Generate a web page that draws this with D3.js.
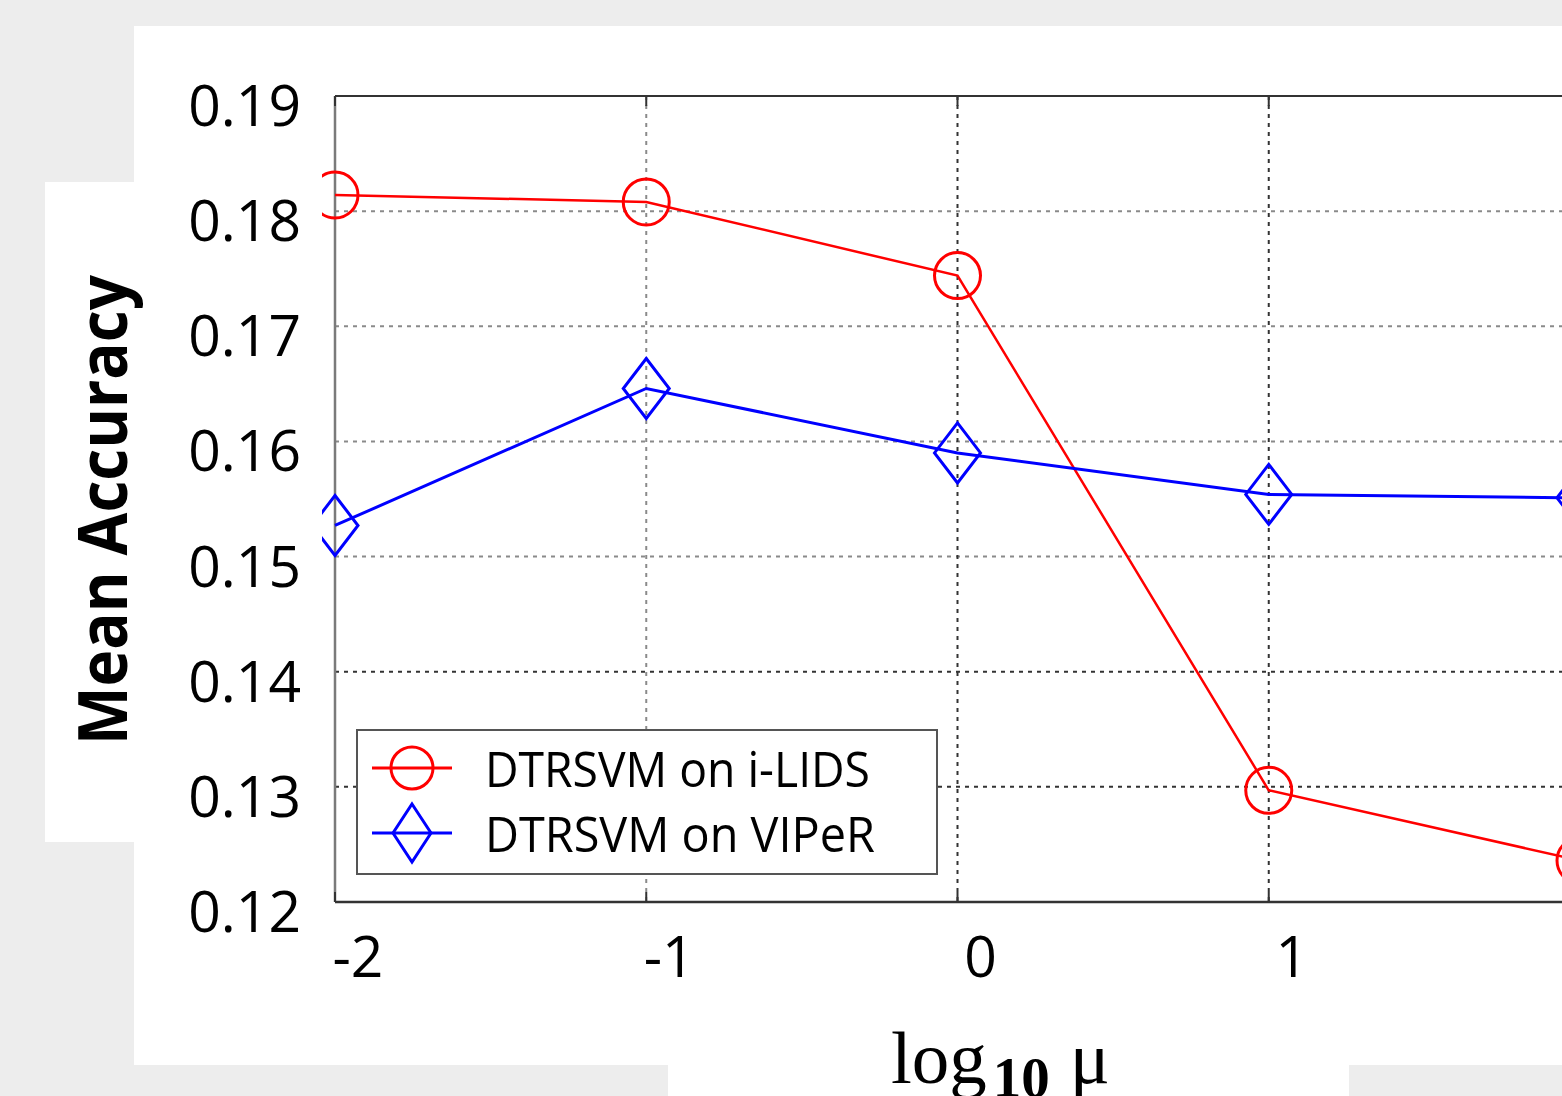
<!DOCTYPE html>
<html>
<head>
<meta charset="utf-8">
<script src="https://cdn.jsdelivr.net/npm/d3@7"></script>
<style>
  html, body { margin: 0; padding: 0; background: #ededed; }
  svg { display: block; }
</style>
</head>
<body>
<div id="container"></div>
<script>
// values
const muLog = [-2, -1, 0, 1, 2];
const ilids = [0.1814, 0.1808, 0.1744, 0.1297, 0.1236];
const viper = [0.1527, 0.1646, 0.1590, 0.1554, 0.1551];
const yTicks = [0.12, 0.13, 0.14, 0.15, 0.16, 0.17, 0.18, 0.19];
const xTicks = [-2, -1, 0, 1, 2];
const seriesNames = ["DTRSVM on i-LIDS", "DTRSVM on VIPeR"];
const darkY = [0.13, 0.14];
const darkX = [0, 1];

const width = 1562, height = 1096;
const marginLeft = 335, marginTop = 96, plotBottom = 902;

const svg = d3.select("#container").append("svg")
    .attr("width", width)
    .attr("height", height)
    .attr("viewBox", [0, 0, width, height]);

// white paper patches
svg.append("rect").attr("x", 134).attr("y", 26).attr("width", width - 134).attr("height", 1039).attr("fill", "#fff");
svg.append("rect").attr("x", 45).attr("y", 182).attr("width", 90).attr("height", 660).attr("fill", "#fff");
svg.append("rect").attr("x", 668).attr("y", 1064).attr("width", 681).attr("height", 32).attr("fill", "#fff");

const x = d3.scaleLinear().domain([-2, 2]).range([marginLeft, 1580]);
const y = d3.scaleLinear().domain([0.12, 0.19]).range([plotBottom, marginTop]);

// grid
svg.append("g")
    .selectAll("line")
    .data(yTicks.filter(d => d > 0.12 && d < 0.19))
    .join("line")
    .attr("x1", marginLeft).attr("x2", width)
    .attr("y1", d => y(d)).attr("y2", d => y(d))
    .attr("stroke", d => darkY.some(v => Math.abs(v - d) < 1e-9) ? "#333" : "#8a8a8a")
    .attr("stroke-width", 2)
    .attr("stroke-dasharray", "4,5");

svg.append("g")
    .selectAll("line")
    .data(xTicks.filter(d => d > -2))
    .join("line")
    .attr("x1", d => x(d)).attr("x2", d => x(d))
    .attr("y1", marginTop).attr("y2", plotBottom)
    .attr("stroke", d => darkX.includes(d) ? "#333" : "#8a8a8a")
    .attr("stroke-width", 2)
    .attr("stroke-dasharray", "4,5");

// box
svg.append("line").attr("x1", marginLeft).attr("x2", marginLeft).attr("y1", marginTop).attr("y2", plotBottom)
    .attr("stroke", "#7a7a7a").attr("stroke-width", 2.5);
svg.append("line").attr("x1", marginLeft).attr("x2", width).attr("y1", marginTop).attr("y2", marginTop)
    .attr("stroke", "#333").attr("stroke-width", 2);
svg.append("line").attr("x1", marginLeft).attr("x2", width).attr("y1", plotBottom).attr("y2", plotBottom)
    .attr("stroke", "#333").attr("stroke-width", 2.5);

// tick marks along top and bottom
const tk = svg.append("g").attr("stroke", "#333").attr("stroke-width", 2);
xTicks.forEach(d => {
    tk.append("line").attr("x1", x(d)).attr("x2", x(d)).attr("y1", plotBottom).attr("y2", plotBottom - 10);
    tk.append("line").attr("x1", x(d)).attr("x2", x(d)).attr("y1", marginTop).attr("y2", marginTop + 10);
});

// tick labels
svg.append("g")
    .selectAll("text")
    .data(yTicks)
    .join("text")
    .attr("x", 301)
    .attr("y", d => y(d) + 30)
    .attr("text-anchor", "end")
    .attr("font-family", "'Open Sans', sans-serif")
    .attr("font-size", 57)
    .attr("fill", "#000")
    .text(d => d.toFixed(2));

svg.append("g")
    .selectAll("text")
    .data(xTicks)
    .join("text")
    .attr("x", d => x(d) + 23)
    .attr("y", 977)
    .attr("text-anchor", "middle")
    .attr("font-family", "'Open Sans', sans-serif")
    .attr("font-size", 57)
    .attr("fill", "#000")
    .text(d => d);

// axis titles
svg.append("text")
    .attr("transform", "translate(127,510) rotate(-90)")
    .attr("text-anchor", "middle")
    .attr("font-family", "'Open Sans', sans-serif")
    .attr("font-weight", "bold")
    .attr("font-size", 68)
    .attr("textLength", 470)
    .attr("lengthAdjust", "spacingAndGlyphs")
    .text("Mean Accuracy");

const xt = svg.append("text")
    .attr("x", 891)
    .attr("y", 1083)
    .attr("font-family", "'Liberation Serif', serif")
    .attr("font-size", 75)
    .attr("fill", "#000");
xt.append("tspan").text("log");
xt.append("tspan").attr("font-size", 57).attr("font-weight", "bold").attr("dy", 14).attr("dx", 6).text("10");
xt.append("tspan").attr("dy", -14).attr("dx", 20).text("μ");

// data
const clip = svg.append("clipPath").attr("id", "plotclip")
    .append("rect").attr("x", 322).attr("y", 0).attr("width", width).attr("height", height);
const plot = svg.append("g").attr("clip-path", "url(#plotclip)");

const line = d3.line().x((d, i) => x(muLog[i])).y(d => y(d));
const diamond = (cx, cy) => `M${cx},${cy - 30}L${cx + 23},${cy}L${cx},${cy + 30}L${cx - 23},${cy}Z`;

plot.append("path").datum(ilids).attr("d", line)
    .attr("fill", "none").attr("stroke", "#ff0000").attr("stroke-width", 2.5);
plot.append("g").selectAll("circle").data(ilids).join("circle")
    .attr("cx", (d, i) => x(muLog[i])).attr("cy", d => y(d)).attr("r", 23)
    .attr("fill", "none").attr("stroke", "#ff0000").attr("stroke-width", 3);

plot.append("path").datum(viper).attr("d", line)
    .attr("fill", "none").attr("stroke", "#0000ff").attr("stroke-width", 3);
plot.append("g").selectAll("path").data(viper).join("path")
    .attr("d", (d, i) => diamond(x(muLog[i]), y(d)))
    .attr("fill", "none").attr("stroke", "#0000ff").attr("stroke-width", 3);

// legend
const lg = svg.append("g");
lg.append("rect").attr("x", 357).attr("y", 730).attr("width", 580).attr("height", 144)
    .attr("fill", "#fff").attr("stroke", "#555").attr("stroke-width", 2);
const colors = ["#ff0000", "#0000ff"];
seriesNames.forEach((name, i) => {
    const cy = 768 + i * 65;
    lg.append("line").attr("x1", 372).attr("x2", 452).attr("y1", cy).attr("y2", cy)
        .attr("stroke", colors[i]).attr("stroke-width", 3);
    if (i === 0) {
        lg.append("circle").attr("cx", 412).attr("cy", cy).attr("r", 21)
            .attr("fill", "none").attr("stroke", colors[i]).attr("stroke-width", 3);
    } else {
        lg.append("path").attr("d", `M412,${cy - 29}L431,${cy}L412,${cy + 29}L393,${cy}Z`)
            .attr("fill", "none").attr("stroke", colors[i]).attr("stroke-width", 3);
    }
    lg.append("text").attr("x", 485).attr("y", cy + 19)
        .attr("font-family", "'Open Sans', sans-serif")
        .attr("font-size", 50)
        .attr("textLength", i === 0 ? 385 : 390)
        .attr("lengthAdjust", "spacingAndGlyphs")
        .text(name);
});
</script>
</body>
</html>
